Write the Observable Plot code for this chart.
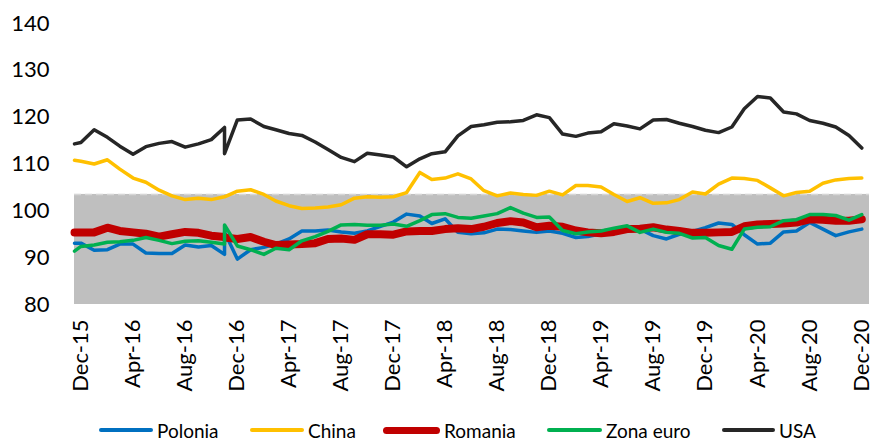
<!DOCTYPE html>
<html>
<head>
<meta charset="utf-8">
<script src="https://cdn.jsdelivr.net/npm/d3@7"></script>
<script src="https://cdn.jsdelivr.net/npm/@observablehq/plot@0.6"></script>
<style>
  html, body { margin: 0; padding: 0; background: #fff; }
  #wrap { position: relative; width: 873px; height: 440px; font-family: Lato, "Open Sans", sans-serif; }
  #legend { position: absolute; left: 0; top: 418px; width: 873px; height: 24px; }
  .item { position: absolute; top: 0; height: 24px; display: flex; align-items: center; font-size: 19px; color: #000; white-space: nowrap; }
  .sw { display: inline-block; border-radius: 4px; margin-right: 4px; }
</style>
</head>
<body>
<div id="wrap"><div id="chart"></div><div id="legend"></div></div>
<script>
// ---- data ----
const dates = [
  "2015-11-16","2015-12-01",
  "2016-01-01","2016-02-01","2016-03-01","2016-04-01","2016-05-01","2016-06-01",
  "2016-07-01","2016-08-01","2016-09-01","2016-10-01","2016-11-01","2016-11-01","2016-12-01",
  "2017-01-01","2017-02-01","2017-03-01","2017-04-01","2017-05-01","2017-06-01",
  "2017-07-01","2017-08-01","2017-09-01","2017-10-01","2017-11-01","2017-12-01",
  "2018-01-01","2018-02-01","2018-03-01","2018-04-01","2018-05-01","2018-06-01",
  "2018-07-01","2018-08-01","2018-09-01","2018-10-01","2018-11-01","2018-12-01",
  "2019-01-01","2019-02-01","2019-03-01","2019-04-01","2019-05-01","2019-06-01",
  "2019-07-01","2019-08-01","2019-09-01","2019-10-01","2019-11-01","2019-12-01",
  "2020-01-01","2020-02-01","2020-03-01","2020-04-01","2020-05-01","2020-06-01",
  "2020-07-01","2020-08-01","2020-09-01","2020-10-01","2020-11-01","2020-12-01"
];
const polonia = [93.1,93.1,91.6,91.7,92.9,92.9,91.0,90.9,90.9,92.7,92.3,92.6,
  90.7,95.5,
  89.7,91.7,92.2,92.9,94.0,95.7,95.7,95.9,95.5,
  95.2,95.7,96.7,97.6,99.3,98.9,97.3,98.3,95.4,95.1,
  95.3,96.1,96.0,95.7,95.4,95.7,95.2,94.3,94.5,95.1,
  95.7,96.4,96.1,94.7,94.0,95.0,95.6,96.4,97.4,97.1,
  94.9,92.9,93.1,95.5,95.7,97.5,96.1,94.7,95.5,96.1];
const china = [110.8,110.6,110.0,110.9,108.9,107.0,106.1,104.4,103.2,102.4,102.7,102.4,
  103.0,103.0,
  104.2,104.5,103.5,102.1,101.1,100.5,100.6,100.8,101.3,
  102.7,103.0,102.9,103.0,103.9,108.2,106.7,107.0,107.9,106.8,
  104.3,103.2,103.8,103.5,103.3,104.2,103.4,105.4,105.4,105.1,
  103.5,102.0,102.8,101.6,101.7,102.4,104.0,103.6,105.7,107.0,
  106.9,106.5,104.9,103.2,103.9,104.2,105.9,106.6,106.9,107.0];
const romania = [95.4,95.4,95.4,96.4,95.7,95.4,95.1,94.5,95.0,95.5,95.3,94.7,
  94.4,94.3,
  94.0,94.4,93.4,92.7,92.8,92.9,93.1,94.0,94.1,
  93.8,95.0,95.0,94.9,95.6,95.7,95.7,96.1,96.3,96.1,
  96.6,97.4,97.8,97.5,96.5,96.8,96.6,95.8,95.4,95.2,
  95.5,96.1,96.2,96.5,96.0,95.7,95.3,95.3,95.4,95.5,
  96.7,97.1,97.2,97.3,97.5,98.2,98.1,97.9,97.9,98.2];
const zonaEuro = [91.4,92.4,92.7,93.3,93.4,93.7,94.3,93.7,93.0,93.5,93.6,93.3,
  92.9,97.0,
  92.5,91.7,90.7,92.0,91.7,93.6,94.5,95.6,97.0,
  97.1,96.9,96.9,97.2,96.7,97.9,99.2,99.4,98.6,98.4,
  98.9,99.4,100.7,99.5,98.6,98.7,95.8,95.1,95.5,95.7,
  96.3,96.8,95.4,96.1,95.4,95.2,94.2,94.3,92.6,91.8,
  96.1,96.5,96.6,97.9,98.1,99.2,99.2,99.0,98.0,99.2];
const usa = [114.3,114.6,117.3,115.7,113.8,112.1,113.7,114.4,114.8,113.6,114.3,115.2,
  117.8,112.2,
  119.4,119.6,118.0,117.3,116.5,116.1,114.7,113.1,111.4,
  110.5,112.3,111.9,111.5,109.4,111.1,112.2,112.6,116.0,118.0,
  118.4,118.9,119.0,119.3,120.5,119.9,116.4,115.9,116.6,116.9,
  118.6,118.1,117.5,119.4,119.5,118.7,118.0,117.2,116.7,117.9,
  121.8,124.4,124.1,121.1,120.7,119.3,118.7,117.9,116.1,113.4];

const seriesNames = ["Polonia", "China", "Romania", "Zona euro", "USA"];
const seriesValues = [polonia, china, romania, zonaEuro, usa];
const seriesColors = ["#0070C0", "#FFC000", "#C00000", "#00B050", "#262626"];
const seriesWidths = [3.5, 3.5, 8, 3.5, 3.5];

const xTicks = ["2015-12-01","2016-04-01","2016-08-01","2016-12-01","2017-04-01","2017-08-01",
  "2017-12-01","2018-04-01","2018-08-01","2018-12-01","2019-04-01","2019-08-01",
  "2019-12-01","2020-04-01","2020-08-01","2020-12-01"];
const yTicks = [80, 90, 100, 110, 120, 130, 140];

const bandStart = "2015-11-16";
const bandEnd = "2020-12-19";
const bandLow = 80;
const bandHigh = 103.5;

// ---- build ----
const parse = s => new Date(s + "T00:00:00Z");
const rows = [];
seriesNames.forEach((name, si) => {
  seriesValues[si].forEach((v, i) => rows.push({series: name, date: parse(dates[i]), value: v, order: i}));
});
const band = [{x1: parse(bandStart), x2: parse(bandEnd), y1: bandLow, y2: bandHigh}];

const marks = [
  Plot.rect(band, {x1: "x1", x2: "x2", y1: "y1", y2: "y2", fill: "#BFBFBF"}),
  Plot.ruleY([bandHigh], {x1: parse(bandStart), x2: parse(bandEnd), stroke: "#d6d6d6", strokeWidth: 1.5, strokeDasharray: "7,4"}),
  Plot.axisY({ticks: yTicks, tickSize: 0, tickPadding: 25, fontSize: 22, label: null}),
  Plot.axisX({ticks: xTicks.map(parse), tickFormat: d3.utcFormat("%b-%y"), tickRotate: -90, tickSize: 0, tickPadding: 15, fontSize: 22, label: null})
];
seriesNames.forEach((name, si) => {
  marks.push(Plot.line(rows.filter(r => r.series === name), {
    x: "date", y: "value", stroke: seriesColors[si], strokeWidth: seriesWidths[si],
    strokeLinejoin: "round", strokeLinecap: "round"
  }));
});

const chart = Plot.plot({
  width: 873,
  height: 400,
  marginLeft: 74,
  marginRight: 4,
  marginTop: 23,
  marginBottom: 96,
  style: {fontFamily: "Lato, 'Open Sans', sans-serif", color: "#000", background: "#fff"},
  x: {type: "utc", domain: [parse(bandStart), parse(bandEnd)]},
  y: {domain: [80, 140]},
  marks
});
document.getElementById("chart").appendChild(chart);

// ---- legend ----
const legendPos = [
  {sw: 99, w: 54}, {sw: 250, w: 54}, {sw: 383, w: 57}, {sw: 547, w: 55}, {sw: 722, w: 53}
];
const legend = document.getElementById("legend");
seriesNames.forEach((name, si) => {
  const item = document.createElement("div");
  item.className = "item";
  item.style.left = legendPos[si].sw + "px";
  const sw = document.createElement("span");
  sw.className = "sw";
  sw.style.width = legendPos[si].w + "px";
  sw.style.height = (si === 2 ? 7 : 4) + "px";
  sw.style.background = seriesColors[si];
  item.appendChild(sw);
  const t = document.createElement("span");
  t.textContent = name;
  item.appendChild(t);
  legend.appendChild(item);
});
</script>
</body>
</html>
